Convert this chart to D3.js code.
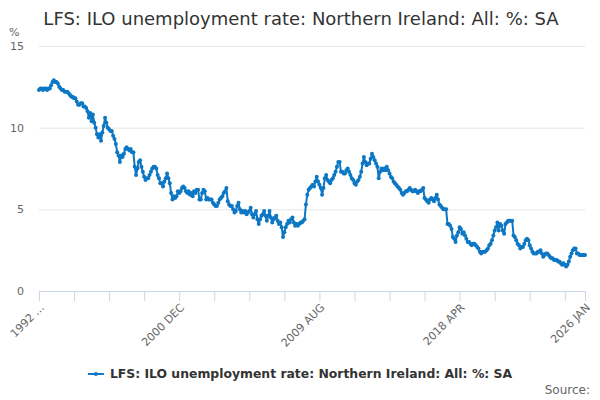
<!DOCTYPE html>
<html>
<head>
<meta charset="utf-8">
<script src="https://cdn.jsdelivr.net/npm/d3@7"></script>
<style>
    body { margin: 0; background: #fff; }
    text { font-family: "DejaVu Sans", sans-serif; }
</style>
</head>
<body>
<div id="main"></div>
<script>
const ctx = {
    w: 600,
    h: 400,
    left: 39,
    right: 585,
    top: 46,
    bottom: 291,
    LINE_COLOR: "#0c77c3",
};

const TITLE = "LFS: ILO unemployment rate: Northern Ireland: All: %: SA";
const SERIES_NAME = "LFS: ILO unemployment rate: Northern Ireland: All: %: SA";
const MONTHS = ["JAN","FEB","MAR","APR","MAY","JUN","JUL","AUG","SEP","OCT","NOV","DEC"];
const START_YEAR = 1992, START_MONTH = 3; // 1992 APR

// monthly values, one row per 12 months starting 1992 APR
const values = [
    12.3, 12.4, 12.4, 12.3, 12.4, 12.4, 12.3, 12.4, 12.4, 12.6, 12.8, 12.9,
    12.8, 12.8, 12.7, 12.5, 12.4, 12.3, 12.3, 12.2, 12.2, 12.2, 12.1, 12.0,
    11.9, 11.9, 11.8, 11.8, 11.6, 11.4, 11.4, 11.5, 11.5, 11.3, 11.3, 11.2,
    11.0, 10.6, 10.9, 10.4, 10.8, 10.3, 10.0, 9.6, 9.4, 9.6, 9.2, 9.7,
    10.1, 10.6, 10.3, 10.0, 9.9, 9.8, 9.8, 9.5, 9.3, 9.0, 8.5, 8.3,
    7.9, 8.3, 8.2, 8.4, 8.7, 8.8, 8.7, 8.6, 8.7, 8.5, 8.5, 7.6,
    7.1, 7.5, 7.9, 8.0, 7.6, 7.3, 7.0, 6.8, 6.9, 6.9, 7.1, 7.3,
    7.5, 7.6, 7.6, 7.5, 7.1, 6.9, 6.6, 6.6, 6.4, 6.7, 6.9, 7.2,
    6.9, 6.6, 6.0, 5.6, 5.8, 5.7, 5.8, 6.1, 6.0, 6.1, 6.3, 6.4,
    6.3, 6.1, 6.0, 6.1, 5.9, 6.0, 5.8, 6.1, 6.0, 6.2, 6.2, 5.6,
    5.6, 6.0, 6.2, 6.1, 5.6, 5.7, 5.6, 5.6, 5.6, 5.4, 5.3, 5.2,
    5.2, 5.4, 5.6, 5.7, 5.8, 6.0, 6.1, 6.3, 5.5, 5.3, 5.2, 5.2,
    5.0, 4.8, 4.9, 5.2, 5.4, 5.0, 4.8, 4.9, 4.8, 4.9, 4.7, 4.8,
    4.9, 5.1, 4.7, 4.5, 4.7, 4.9, 4.4, 4.1, 4.4, 4.6, 4.7, 4.9,
    4.6, 4.3, 4.6, 4.9, 4.5, 4.2, 4.4, 4.5, 4.6, 4.3, 4.1, 4.2,
    3.9, 3.3, 3.6, 3.9, 4.1, 4.3, 4.2, 4.4, 4.5, 4.2, 4.0, 4.1,
    4.0, 4.1, 4.2, 4.2, 4.3, 4.4, 5.3, 5.9, 6.2, 6.3, 6.4, 6.5,
    6.4, 6.7, 7.0, 6.7, 6.5, 6.3, 5.9, 6.3, 6.9, 7.1, 6.8, 6.7,
    6.6, 6.8, 6.9, 7.1, 7.3, 7.6, 7.9, 7.9, 7.3, 7.3, 7.2, 7.2,
    7.4, 7.5, 7.3, 7.1, 6.9, 6.8, 6.6, 6.5, 6.7, 6.8, 7.0, 7.3,
    7.8, 8.2, 7.9, 7.7, 7.8, 7.8, 8.1, 8.4, 8.2, 8.0, 7.8, 7.6,
    6.9, 7.3, 7.5, 7.4, 7.5, 7.4, 7.6, 7.4, 7.2, 7.0, 6.9, 6.7,
    6.6, 6.5, 6.4, 6.3, 6.2, 6.0, 5.9, 6.0, 6.1, 6.1, 6.2, 6.3,
    6.2, 6.1, 6.1, 6.2, 6.1, 6.0, 6.1, 6.1, 6.2, 6.3, 5.7, 5.6,
    5.5, 5.4, 5.6, 5.7, 5.6, 5.5, 5.7, 5.9, 5.6, 5.3, 5.2, 5.1,
    5.0, 5.0, 5.0, 4.1, 4.1, 4.0, 3.8, 3.3, 3.2, 3.0, 3.4, 3.6,
    3.9, 3.8, 3.5, 3.6, 3.4, 3.2, 3.0, 3.0, 2.9, 2.8, 2.9, 2.9,
    2.8, 2.7, 2.6, 2.4, 2.3, 2.4, 2.4, 2.4, 2.5, 2.6, 2.8, 2.9,
    3.1, 3.4, 3.7, 3.9, 4.2, 3.7, 4.1, 4.0, 3.7, 3.5, 4.1, 4.2,
    4.3, 4.3, 4.3, 4.3, 3.4, 3.3, 3.1, 2.9, 2.8, 2.6, 2.7, 2.7,
    2.9, 3.1, 3.2, 3.1, 2.8, 2.6, 2.4, 2.3, 2.3, 2.3, 2.4, 2.4,
    2.5, 2.3, 2.1, 2.2, 2.3, 2.3, 2.2, 2.1, 2.0, 2.0, 1.9, 1.9,
    1.9, 1.8, 1.8, 1.7, 1.6, 1.7, 1.6, 1.5, 1.6, 1.8, 2.1, 2.3,
    2.5, 2.6, 2.6, 2.3, 2.3, 2.2, 2.2, 2.2, 2.2, 2.2
];

const yTicks = [0, 5, 10, 15];
const xTickEvery = 26;   // months between tick marks
const xLabelEvery = 104; // months between labels
const firstLabel = "1992 ...";

function monthLabel(i){
    let m = START_MONTH + i;
    return (START_YEAR + Math.floor(m / 12)) + " " + MONTHS[m % 12];
}

function createViz(){
    const svg = d3.select("#main").append("svg")
        .attr("width", ctx.w).attr("height", ctx.h);

    const categories = values.map((d, i) => monthLabel(i));
    const data = values.map((v, i) => ({cat: categories[i], v: v}));

    const x = d3.scalePoint().domain(categories).range([ctx.left, ctx.right]);
    const y = d3.scaleLinear().domain([0, 15]).range([ctx.bottom, ctx.top]);

    // title
    svg.append("text")
        .attr("x", ctx.w / 2 + 1).attr("y", 25)
        .attr("text-anchor", "middle")
        .attr("font-size", 18).attr("fill", "#333")
        .text(TITLE);

    // y gridlines + labels
    const yAxis = d3.axisLeft(y).tickValues(yTicks)
        .tickSize(-(ctx.right - ctx.left)).tickFormat(d3.format("d"));
    const gy = svg.append("g")
        .attr("transform", "translate(" + ctx.left + ",0)")
        .call(yAxis);
    gy.select(".domain").remove();
    gy.selectAll(".tick line").attr("stroke", "#e6e6e6");
    gy.selectAll(".tick text")
        .attr("x", -15).attr("fill", "#666")
        .attr("font-size", 11).attr("font-family", "DejaVu Sans, sans-serif");
    gy.selectAll(".tick").filter(d => d === 0).select("line").remove();

    svg.append("text")
        .attr("x", 9).attr("y", 36)
        .attr("font-size", 11).attr("fill", "#666")
        .text("%");

    // x axis
    let tickCats = categories.filter((d, i) => i % xTickEvery === 0);
    tickCats.push(categories[categories.length - 1]);
    let labelCats = categories.filter((d, i) => i % xLabelEvery === 0);
    labelCats.push(categories[categories.length - 1]);

    const xAxis = d3.axisBottom(x).tickValues(tickCats).tickSize(10)
        .tickFormat(d => labelCats.includes(d) ? (d === categories[0] ? firstLabel : d) : "");
    const gx = svg.append("g")
        .attr("transform", "translate(0," + ctx.bottom + ")")
        .call(xAxis);
    gx.select(".domain").attr("stroke", "#ccd6eb")
        .attr("d", "M" + ctx.left + ",0.5H" + ctx.right);
    gx.selectAll(".tick line").attr("stroke", "#ccd6eb");
    gx.selectAll(".tick text")
        .attr("fill", "#666").attr("font-size", 11)
        .attr("font-family", "DejaVu Sans, sans-serif")
        .attr("text-anchor", "end")
        .attr("transform", "translate(-3,9) rotate(-45)")
        .attr("dy", "0.7em").attr("y", 4);

    // line + markers
    const line = d3.line().x(d => x(d.cat)).y(d => y(d.v));
    svg.append("path")
        .datum(data)
        .attr("fill", "none")
        .attr("stroke", ctx.LINE_COLOR)
        .attr("stroke-width", 2)
        .attr("stroke-linejoin", "round")
        .attr("d", line);

    svg.append("g").selectAll("circle")
        .data(data)
        .enter()
        .append("circle")
        .attr("cx", d => x(d.cat))
        .attr("cy", d => y(d.v))
        .attr("r", 2)
        .attr("fill", ctx.LINE_COLOR);

    // legend
    const legend = svg.append("g");
    const lt = legend.append("text")
        .attr("x", 111).attr("y", 378)
        .attr("font-size", 12.4).attr("font-weight", "bold").attr("fill", "#333")
        .text(SERIES_NAME);
    const tw = lt.node().getComputedTextLength();
    const lx = (ctx.w - (tw + 22)) / 2;
    lt.attr("x", lx + 22);
    legend.append("line")
        .attr("x1", lx).attr("x2", lx + 16)
        .attr("y1", 374).attr("y2", 374)
        .attr("stroke", ctx.LINE_COLOR).attr("stroke-width", 2);
    legend.append("circle")
        .attr("cx", lx + 8).attr("cy", 374).attr("r", 2)
        .attr("fill", ctx.LINE_COLOR);

    svg.append("text")
        .attr("x", 590).attr("y", 394)
        .attr("text-anchor", "end")
        .attr("font-size", 12).attr("fill", "#666")
        .text("Source:");
}

createViz();
</script>
</body>
</html>
